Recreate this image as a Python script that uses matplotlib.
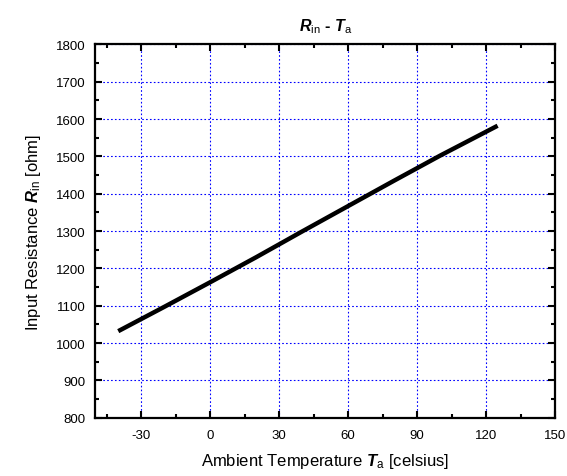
import matplotlib
matplotlib.use("Agg")
import matplotlib.pyplot as plt
from matplotlib.ticker import MultipleLocator

temperature = [-40, -20, 0, 20, 40, 60, 80, 100, 125]
resistance = [1032, 1097, 1163, 1230, 1299, 1367, 1435, 1502, 1582]

plt.rcParams['font.family'] = ['Liberation Sans', 'DejaVu Sans']
plt.rcParams['axes.unicode_minus'] = False
plt.rcParams['mathtext.fontset'] = 'custom'
plt.rcParams['mathtext.rm'] = 'Liberation Sans'
plt.rcParams['mathtext.it'] = 'Liberation Sans:italic'
plt.rcParams['mathtext.bf'] = 'Liberation Sans:bold'
plt.rcParams['mathtext.bfit'] = 'Liberation Sans:bold:italic'

fig = plt.figure(figsize=(5.67, 4.77), dpi=100)
ax = fig.add_axes([0.168, 0.122, 0.811, 0.783])

ax.plot(temperature, resistance, color='black', linewidth=3.2, solid_capstyle='butt', zorder=3)

ax.set_xlim(-50, 150)
ax.set_ylim(800, 1800)
ax.xaxis.set_major_locator(MultipleLocator(30))
ax.xaxis.set_minor_locator(MultipleLocator(15))
ax.yaxis.set_major_locator(MultipleLocator(100))
ax.yaxis.set_minor_locator(MultipleLocator(50))

ax.grid(True, which='major', color='blue', linestyle=(0, (1.5, 2)), linewidth=0.8)
ax.tick_params(which='both', direction='in', top=True, right=True, labelsize=9.5, width=1.5)
ax.tick_params(axis='y', which='major', pad=7)
ax.tick_params(axis='x', which='major', pad=8)
ax.tick_params(which='major', length=5)
ax.tick_params(which='minor', length=3)
for s in ax.spines.values():
    s.set_linewidth(1.6)

ax.set_title(r'$\mathbfit{R}_{\mathrm{in}}$ - $\mathbfit{T}_{\mathrm{a}}$', fontsize=11.5, fontweight='bold', pad=10)
ax.set_xlabel(r'Ambient Temperature $\mathbfit{T}_{\mathrm{a}}$ [celsius]', fontsize=12, labelpad=7)
ax.set_ylabel(r'Input Resistance $\mathbfit{R}_{\mathrm{in}}$ [ohm]', fontsize=12, labelpad=9)

fig.savefig('out.png', dpi=100)
